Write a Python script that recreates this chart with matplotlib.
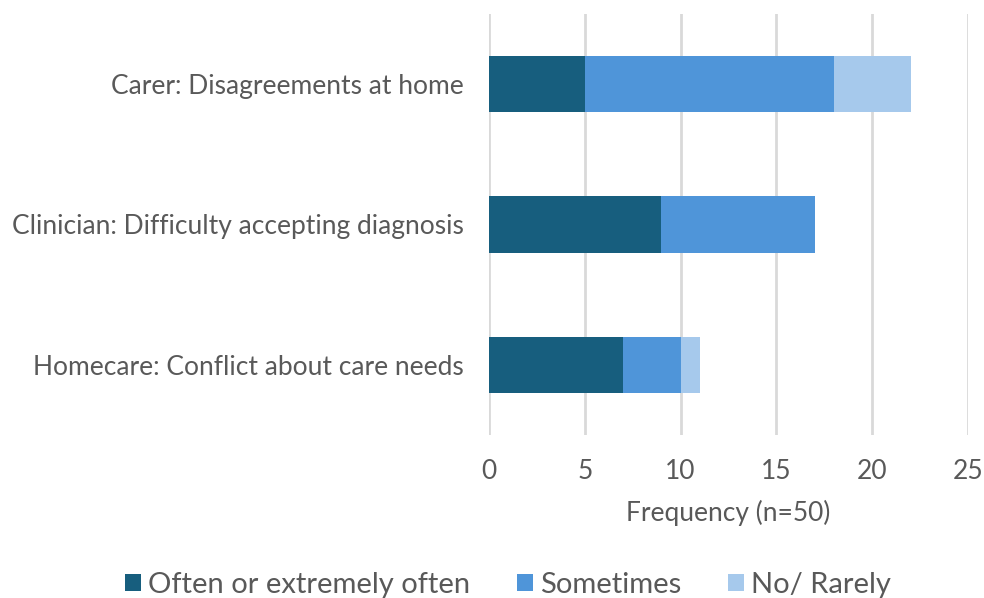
import matplotlib.pyplot as plt
from matplotlib.patches import Patch

plt.rcParams['font.family'] = ['Lato', 'DejaVu Sans']

# Situaciones y frecuencias por categoría
categories = ['Carer: Disagreements at home',
              'Clinician: Difficulty accepting diagnosis',
              'Homecare: Conflict about care needs']
often = [5, 9, 7]
sometimes = [13, 8, 3]
rarely = [4, 0, 1]
series_names = ['Often or extremely often', 'Sometimes', 'No/ Rarely']
colors = ['#175E7E', '#4F95D9', '#A6C9EC']
text_color = '#595959'

fig = plt.figure(figsize=(9.84, 5.98), dpi=100)
ax = fig.add_axes([489 / 984, 1 - 435 / 598, (968 - 489) / 984, (435 - 14) / 598])

y = list(range(len(categories)))
left = [0] * len(categories)
for vals, name, col in zip([often, sometimes, rarely], series_names, colors):
    ax.barh(y, vals, left=left, height=0.4, color=col, label=name, zorder=3)
    left = [a + b for a, b in zip(left, vals)]

ax.set_xlim(0, 25)
ax.set_ylim(2.5, -0.5)
ax.set_xticks([0, 5, 10, 15, 20, 25])
ax.set_yticks(y)
ax.set_yticklabels(categories)
ax.tick_params(axis='both', length=0, labelsize=19, colors=text_color)
ax.tick_params(axis='x', pad=17)
ax.tick_params(axis='y', pad=18)
ax.grid(axis='x', color='#D9D9D9', linewidth=2, zorder=0)
for s in ax.spines.values():
    s.set_visible(False)

ax.set_xlabel('Frequency (n=50)', fontsize=19, color=text_color, labelpad=12)

handles = [Patch(facecolor=c, label=n) for c, n in zip(colors, series_names)]
fig.legend(handles=handles, loc='center', bbox_to_anchor=(508 / 984, 1 - 585 / 598),
           ncol=3, frameon=False, fontsize=21, labelcolor=text_color,
           handlelength=0.55, handleheight=0.55, handletextpad=0.25, columnspacing=1.6)

fig.savefig('out.png', dpi=100)
